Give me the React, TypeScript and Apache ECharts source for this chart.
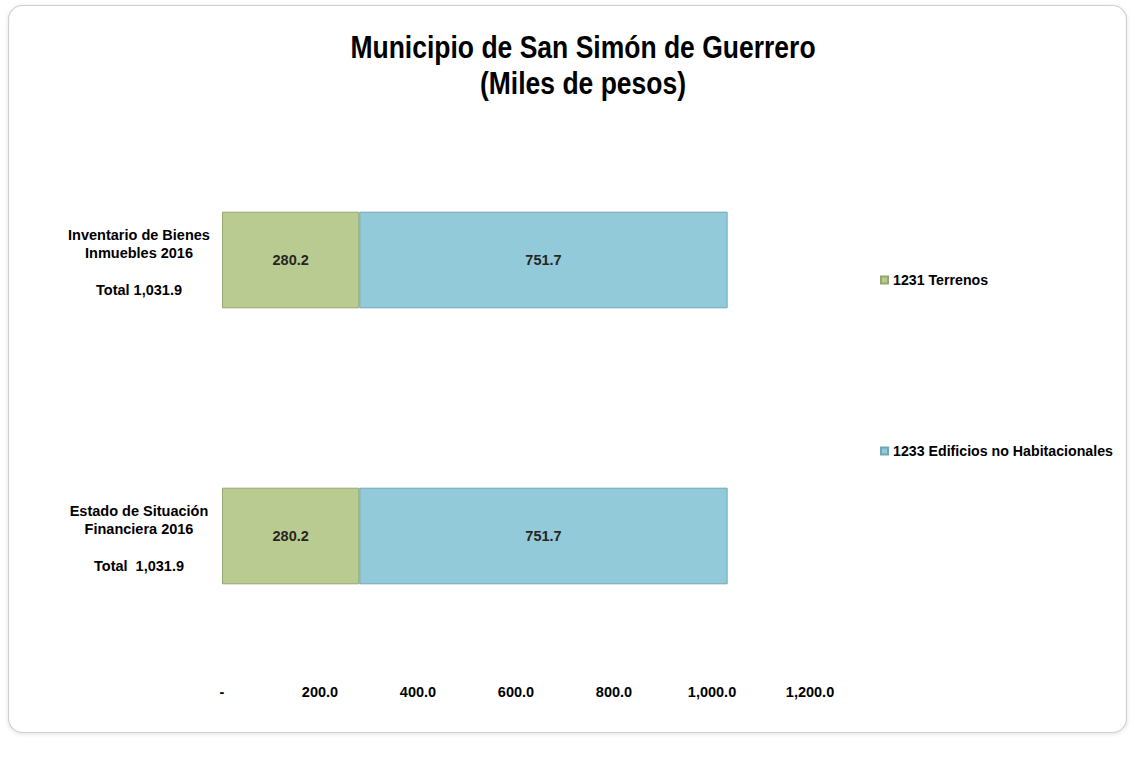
import React, { useEffect, useRef } from "react";
import * as echarts from "echarts";

const categories = ["Inventario de Bienes Inmuebles 2016", "Estado de Situación Financiera 2016"];
const categoryLines = [
  ["Inventario de Bienes", "Inmuebles 2016", "Total 1,031.9"],
  ["Estado de Situación", "Financiera 2016", "Total  1,031.9"],
];
const terrenos = [280.2, 280.2];
const edificios = [751.7, 751.7];
const seriesNames = ["1231 Terrenos", "1233 Edificios no Habitacionales"];
const titleText = "Municipio de San Simón de Guerrero";
const subtitleText = "(Miles de pesos)";

const FONT = "Liberation Sans, Arial, sans-serif";
const FS = 14.5;

export default function App() {
  const ref = useRef<HTMLDivElement>(null);
  useEffect(() => {
    if (!ref.current) return;
    const chart = echarts.init(ref.current, undefined, { renderer: "svg" });
    const fmt = (v: number) =>
      v === 0 ? "-" : v.toLocaleString("en-US", { minimumFractionDigits: 1, maximumFractionDigits: 1 });
    const labelStyle = {
      show: true,
      position: "inside" as const,
      color: "#262626",
      fontWeight: "bold" as const,
      fontSize: FS,
      fontFamily: FONT,
      padding: [4, 0, 0, 0],
      formatter: (p: any) => fmt(p.value),
    };
    const titleStyle = (text: string) => ({
      text,
      fill: "#000",
      font: `bold 26.5px ${FONT}`,
      align: "center",
      verticalAlign: "middle",
      textAlign: "center",
      textVerticalAlign: "middle",
    });
    chart.setOption({
      animation: false,
      backgroundColor: "#ffffff",
      graphic: [
        {
          type: "rect",
          shape: { x: 8.5, y: 5.5, width: 1118, height: 727, r: 14 },
          style: { fill: "#ffffff", stroke: "#d0d0d0", lineWidth: 1.2, shadowBlur: 4, shadowColor: "rgba(0,0,0,0.12)", shadowOffsetY: 1 },
          z: -10,
        },
        { type: "text", x: 583, y: 47, scaleY: 1.15, style: titleStyle(titleText) },
        { type: "text", x: 583, y: 83, scaleY: 1.15, style: titleStyle(subtitleText) },
      ],
      legend: {
        orient: "vertical",
        left: 875,
        top: 268,
        itemWidth: 7,
        itemHeight: 7,
        itemGap: 157,
        icon: "rect",
        textStyle: { fontFamily: FONT, fontSize: 14.2, fontWeight: "bold", color: "#000" },
        data: seriesNames,
      },
      grid: { left: 222, right: 325, top: 122, bottom: 83 },
      xAxis: {
        type: "value",
        min: 0,
        max: 1200,
        interval: 200,
        axisLine: { show: false },
        axisTick: { show: false },
        splitLine: { show: false },
        axisLabel: {
          color: "#000",
          fontFamily: FONT,
          fontSize: FS,
          fontWeight: "bold",
          margin: 10,
          formatter: (v: number) => fmt(v),
        },
      },
      yAxis: {
        type: "category",
        inverse: true,
        data: categories,
        axisLine: { show: false },
        axisTick: { show: false },
        axisLabel: {
          align: "center",
          margin: 83,
          padding: [4, 0, 0, 0],
          formatter: (_v: string, i: number) => {
            const l = categoryLines[i];
            return `{a|${l[0]}}\n{a|${l[1]}}\n{g|}\n{a|${l[2]}}`;
          },
          rich: {
            a: { fontFamily: FONT, fontSize: FS, fontWeight: "bold", color: "#000", lineHeight: 18, align: "center" },
            g: { lineHeight: 19, fontSize: 1 },
          },
        },
      },
      series: [
        {
          name: seriesNames[0],
          type: "bar",
          stack: "total",
          barWidth: "35%",
          data: terrenos,
          itemStyle: { color: "#bacb91", borderColor: "#93a86b", borderWidth: 1 },
          label: labelStyle,
        },
        {
          name: seriesNames[1],
          type: "bar",
          stack: "total",
          data: edificios,
          itemStyle: { color: "#93cad9", borderColor: "#6fa6b7", borderWidth: 1 },
          label: labelStyle,
        },
      ],
    });
    return () => chart.dispose();
  }, []);
  return <div ref={ref} style={{ position: "absolute", left: 0, top: 0, width: 1135, height: 757 }} />;
}
